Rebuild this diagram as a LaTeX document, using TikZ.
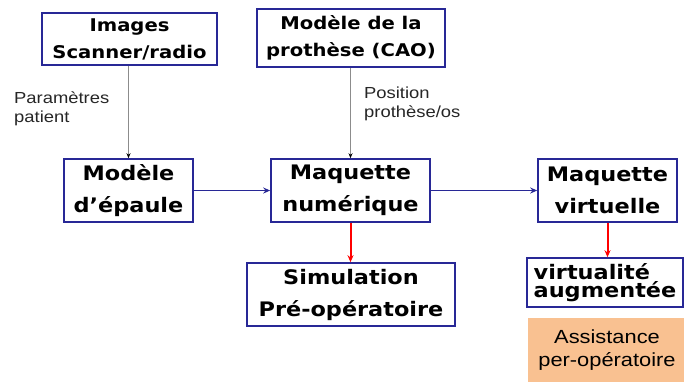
\documentclass[tikz,border=0pt]{standalone}
\usepackage{fontspec}
\setmainfont{Liberation Sans}
\newfontfamily\bx[FakeStretch=1.12]{DejaVu Sans Bold}
\newfontfamily\lb[FakeStretch=1.15]{Liberation Sans}
\usetikzlibrary{arrows.meta}
\definecolor{navy}{RGB}{40,40,150}
\definecolor{peach}{RGB}{249,193,145}
\definecolor{grayline}{RGB}{140,140,140}
\tikzset{
  box/.style={draw=navy, line width=1.6pt, fill=white, inner sep=0pt, align=center, font=\bx},
  topbox/.style={box, font=\bx\fontsize{17.5}{27}\selectfont},
  midbox/.style={box, font=\bx\fontsize{20}{32}\selectfont},
  lbl/.style={font=\lb\fontsize{16}{19}\selectfont, align=left, inner sep=0pt, text=black!85},
  grayarrow/.style={draw=grayline, line width=0.9pt, -{Stealth[length=5pt,width=4pt,black]}},
  bluearrow/.style={draw=navy, line width=1.8pt, -{Stealth[length=7pt,width=6pt]}},
  redarrow/.style={draw=red, line width=2pt, -{Stealth[length=7pt,width=6pt]}}
}
\begin{document}
\begin{tikzpicture}[x=1pt,y=-1pt]
\useasboundingbox (0,0) rectangle (684,381);
\fill[white] (0,0) rectangle (684,381);
\node[topbox, minimum width=175pt, minimum height=52pt] (img) at (129.5,39) {Images\\Scanner/radio};
\node[topbox, minimum width=188pt, minimum height=58pt] (cao) at (351,38) {Modèle de la\\prothèse (CAO)};
\node[midbox, minimum width=129pt, minimum height=63pt] (epaule) at (128.5,190.5) {Modèle\\d’épaule};
\node[midbox, minimum width=159pt, minimum height=63pt] (num) at (350.5,190.5) {Maquette\\numérique};
\node[midbox, minimum width=139pt, minimum height=63pt] (virt) at (607.5,190.5) {Maquette\\virtuelle};
\node[midbox, minimum width=208pt, minimum height=63pt] (simu) at (351,294.5) {Simulation\\Pré-opératoire};
\node[box, font=\bx\fontsize{20}{18.5}\selectfont, align=left, minimum width=156pt, minimum height=49pt] (aug) at (605,282.5) {virtualité\\augmentée};
\node[fill=peach, inner sep=0pt, minimum width=158pt, minimum height=64pt, align=center, font=\lb\fontsize{19}{23}\selectfont] (assist) at (607,350) {Assistance\\per-opératoire};
\node[lbl, anchor=north west] (param) at (14,92) {Paramètres\\patient};
\node[lbl, anchor=north west] (pos) at (364,87) {Position\\prothèse/os};
\draw[grayarrow] (epaule.north |- img.south) -- (epaule.north);
\draw[grayarrow] (num.north |- cao.south) -- (num.north);
\draw[bluearrow] (epaule.east) -- (num.west);
\draw[bluearrow] (num.east) -- (virt.west);
\draw[redarrow] (num.south) -- (num.south |- simu.north);
\draw[redarrow] (virt.south) -- (virt.south |- aug.north);
\end{tikzpicture}
\end{document}
